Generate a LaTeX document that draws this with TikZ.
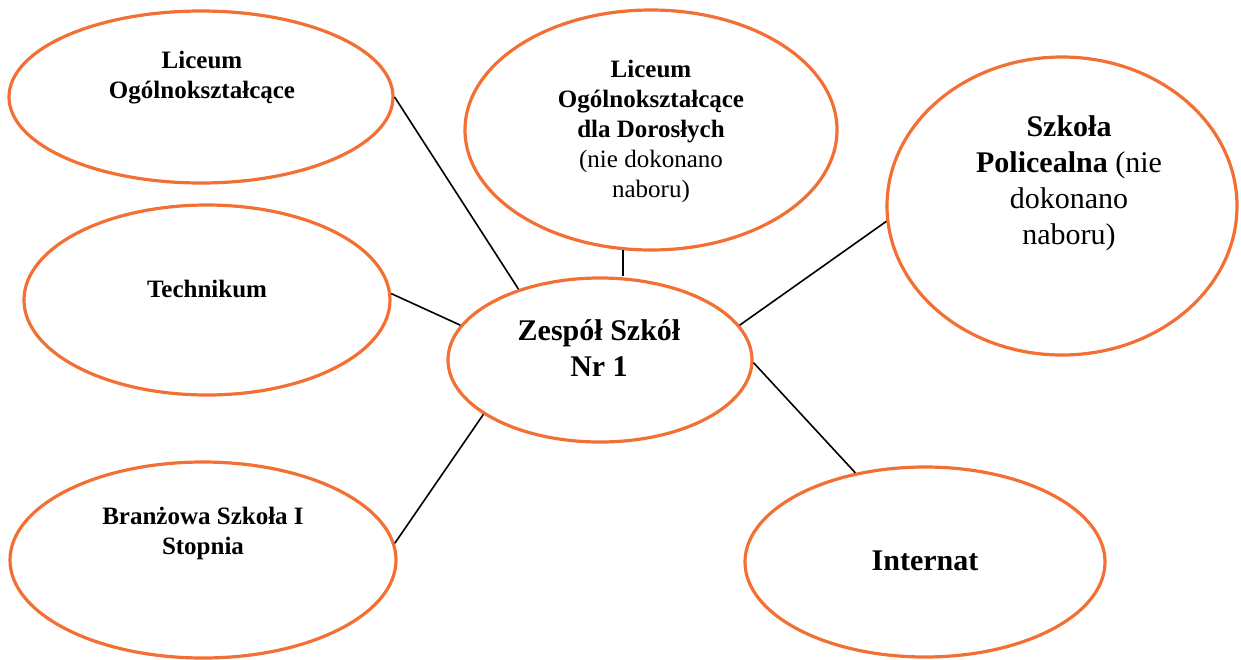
\documentclass[tikz,border=0pt]{standalone}
\usepackage{fontspec}
\setmainfont{Liberation Serif}
\usetikzlibrary{shapes.geometric}
\definecolor{ringorange}{RGB}{243,112,52}
\tikzset{
  ring/.style={ellipse, draw=ringorange, line width=3.2pt, inner sep=0pt},
  link/.style={draw=black, line width=1.6pt},
  small/.style={align=center, font=\fontsize{25}{30}\selectfont},
  large/.style={align=center, font=\fontsize{30}{36}\selectfont}
}

\begin{document}
\begin{tikzpicture}[x=1pt, y=-1pt]
\useasboundingbox (0,0) rectangle (1241,659);
\node[ring, minimum width=384pt, minimum height=172pt] (lo) at (201,97) {};
\node[ring, minimum width=372pt, minimum height=240pt] (lod) at (651,130) {};
\node[ring, minimum width=350pt, minimum height=298pt] (sp) at (1062,206) {};
\node[ring, minimum width=366pt, minimum height=190pt] (tk) at (207,300) {};
\node[ring, minimum width=304pt, minimum height=164pt] (zs) at (600,360) {};
\node[ring, minimum width=386pt, minimum height=196pt] (bs) at (203,560) {};
\node[ring, minimum width=360pt, minimum height=190pt] (in) at (925,562) {};

\node[small] (lo-t) at (202,78) {\textbf{Liceum}\\\textbf{Ogólnokształcące}};
\node[small] (lod-t) at (651,131) {\textbf{Liceum}\\\textbf{Ogólnokształcące}\\\textbf{dla Dorosłych}\\(nie dokonano\\naboru)};
\node[large] (sp-t) at (1069,183) {\textbf{Szkoła}\\\textbf{Policealna} (nie\\dokonano\\naboru)};
\node[small] (tk-t) at (207,289) {\textbf{Technikum}};
\node[large] (zs-t) at (599,348) {\textbf{Zespół Szkół}\\\textbf{Nr 1}};
\node[small] (bs-t) at (203,533) {\textbf{Branżowa Szkoła I}\\\textbf{Stopnia}};
\node[large] (in-t) at (925,561) {\textbf{Internat}};

\draw[link] (lo.east) -- (zs.139);
\draw[link] (lod.257) -- (lod.257 |- zs.north);
\draw[link] (sp.185) -- (zs.14);
\draw[link] (tk.2) -- (zs.166);
\draw[link] (bs.5) -- (zs.205);
\draw[link] (zs.359) -- (in.128);
\end{tikzpicture}
\end{document}
